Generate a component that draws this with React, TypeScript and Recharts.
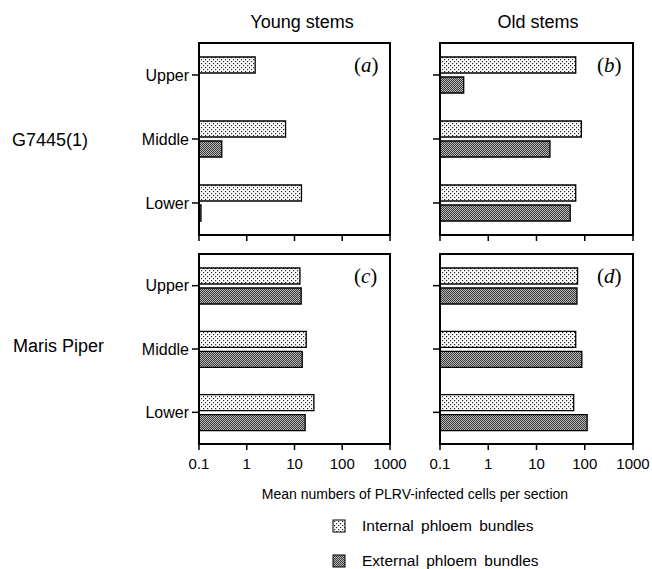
import React from 'react';
import { BarChart, Bar, XAxis, YAxis } from 'recharts';

const CATEGORIES = ['Upper', 'Middle', 'Lower'];
const X_TICKS = [0.1, 1, 10, 100, 1000];

// mean numbers of infected cells per section
const A_INTERNAL = [1.5, 6.5, 14];
const A_EXTERNAL = [null, 0.3, 0.11];
const B_INTERNAL = [65, 85, 65];
const B_EXTERNAL = [0.31, 19, 50];
const C_INTERNAL = [13, 17.6, 25.5];
const C_EXTERNAL = [13.8, 14.5, 16.7];
const D_INTERNAL = [71, 65, 59];
const D_EXTERNAL = [69, 87, 112];

const FONT = '"Liberation Sans", Arial, sans-serif';

const rows = (internal: (number | null)[], external: (number | null)[]) =>
    CATEGORIES.map((pos, i) => ({ pos, internal: internal[i], external: external[i] }));

interface PanelProps {
    left: number;
    top: number;
    plotW: number;
    plotH: number;
    showY: boolean;
    showX: boolean;
    label: string;
    data: { pos: string; internal: number | null; external: number | null }[];
}

const Panel: React.FC<PanelProps> = ({ left, top, plotW, plotH, showY, showX, label, data }) => {
    const yW = showY ? 70 : 12;
    const xH = showX ? 40 : 12;
    const padR = 24;
    const tickLine = { stroke: '#000', strokeWidth: 1.5 };
    return (
        <>
            <div style={{ position: 'absolute', left: left - yW, top }}>
                <BarChart
                    width={yW + plotW + padR}
                    height={plotH + xH}
                    data={data}
                    layout="vertical"
                    margin={{ top: 0, right: padR, bottom: 0, left: 0 }}
                    barSize={16}
                    barGap={4}
                >
                    <XAxis
                        type="number"
                        scale="log"
                        domain={[0.1, 1000]}
                        ticks={X_TICKS}
                        allowDataOverflow
                        interval={0}
                        height={xH}
                        axisLine={false}
                        tickLine={tickLine}
                        tickSize={6}
                        tickMargin={8}
                        tick={{ fill: '#000', fontSize: 15, fontFamily: FONT }}
                        tickFormatter={(v: number) => (showX ? String(v) : '')}
                    />
                    <YAxis
                        type="category"
                        dataKey="pos"
                        width={yW}
                        axisLine={false}
                        tickLine={tickLine}
                        tickSize={7}
                        tickMargin={3}
                        tick={{ fill: '#000', fontSize: 16, fontFamily: FONT }}
                        tickFormatter={(v: string) => (showY ? v : '')}
                    />
                    <Bar dataKey="internal" fill="url(#patInt)" stroke="#000" strokeWidth={1.3} isAnimationActive={false} />
                    <Bar dataKey="external" fill="url(#patExt)" stroke="#000" strokeWidth={1.3} isAnimationActive={false} />
                </BarChart>
            </div>
            <div
                style={{
                    position: 'absolute',
                    left: left - 1,
                    top: top - 1,
                    width: plotW + 2,
                    height: plotH + 2,
                    boxSizing: 'border-box',
                    border: '2px solid #000',
                    pointerEvents: 'none',
                }}
            />
            <div
                style={{
                    position: 'absolute',
                    left: left + plotW - 36,
                    top: top + 10,
                    fontFamily: '"Liberation Serif", "DejaVu Serif", serif',
                    fontSize: 21,
                }}
            >
                (<i>{label}</i>)
            </div>
        </>
    );
};

const Swatch: React.FC<{ fill: string }> = ({ fill }) => (
    <svg width={14} height={14} style={{ display: 'block' }}>
        <rect x={1} y={1} width={12} height={12} fill={fill} stroke="#000" strokeWidth={1} />
    </svg>
);

export default function App() {
    const text = (style: React.CSSProperties, children: React.ReactNode, size = 15) => (
        <div style={{ position: 'absolute', fontFamily: FONT, fontSize: size, color: '#000', whiteSpace: 'nowrap', ...style }}>
            {children}
        </div>
    );
    return (
        <div style={{ position: 'absolute', left: 0, top: 0, width: 652, height: 569, background: '#fff', overflow: 'hidden' }}>
            <svg width={0} height={0} style={{ position: 'absolute' }}>
                <defs>
                    <pattern id="patInt" width={4} height={4} patternUnits="userSpaceOnUse">
                        <rect width={4} height={4} fill="#fff" />
                        <rect x={0} y={0} width={1.2} height={1.2} fill="#222" />
                        <rect x={2} y={2} width={1.2} height={1.2} fill="#222" />
                    </pattern>
                    <pattern id="patExt" width={2} height={2} patternUnits="userSpaceOnUse">
                        <rect width={2} height={2} fill="#b8b8b8" />
                        <rect x={0} y={0} width={1} height={1} fill="#3a3a3a" />
                        <rect x={1} y={1} width={1} height={1} fill="#3a3a3a" />
                    </pattern>
                </defs>
            </svg>

            {text({ left: 202, width: 200, top: 12, textAlign: 'center' }, 'Young stems', 18)}
            {text({ left: 438, width: 200, top: 12, textAlign: 'center' }, 'Old stems', 18)}
            {text({ left: 12, top: 130 }, 'G7445(1)', 18)}
            {text({ left: 13, top: 336 }, 'Maris Piper', 18)}

            <Panel left={199} top={43} plotW={191} plotH={192} showY showX={false} label="a" data={rows(A_INTERNAL, A_EXTERNAL)} />
            <Panel left={440} top={43} plotW={193} plotH={192} showY={false} showX={false} label="b" data={rows(B_INTERNAL, B_EXTERNAL)} />
            <Panel left={199} top={254} plotW={191} plotH={190} showY showX label="c" data={rows(C_INTERNAL, C_EXTERNAL)} />
            <Panel left={440} top={254} plotW={193} plotH={190} showY={false} showX label="d" data={rows(D_INTERNAL, D_EXTERNAL)} />

            {text({ left: 215, width: 400, top: 486, textAlign: 'center' }, 'Mean numbers of PLRV-infected cells per section', 14)}
            <div style={{ position: 'absolute', left: 332, top: 519 }}><Swatch fill="url(#patInt)" /></div>
            {text({ left: 362, top: 517, wordSpacing: 3 }, 'Internal phloem bundles', 15.5)}
            <div style={{ position: 'absolute', left: 332, top: 554 }}><Swatch fill="url(#patExt)" /></div>
            {text({ left: 362, top: 552, wordSpacing: 3 }, 'External phloem bundles', 15.5)}
        </div>
    );
}
